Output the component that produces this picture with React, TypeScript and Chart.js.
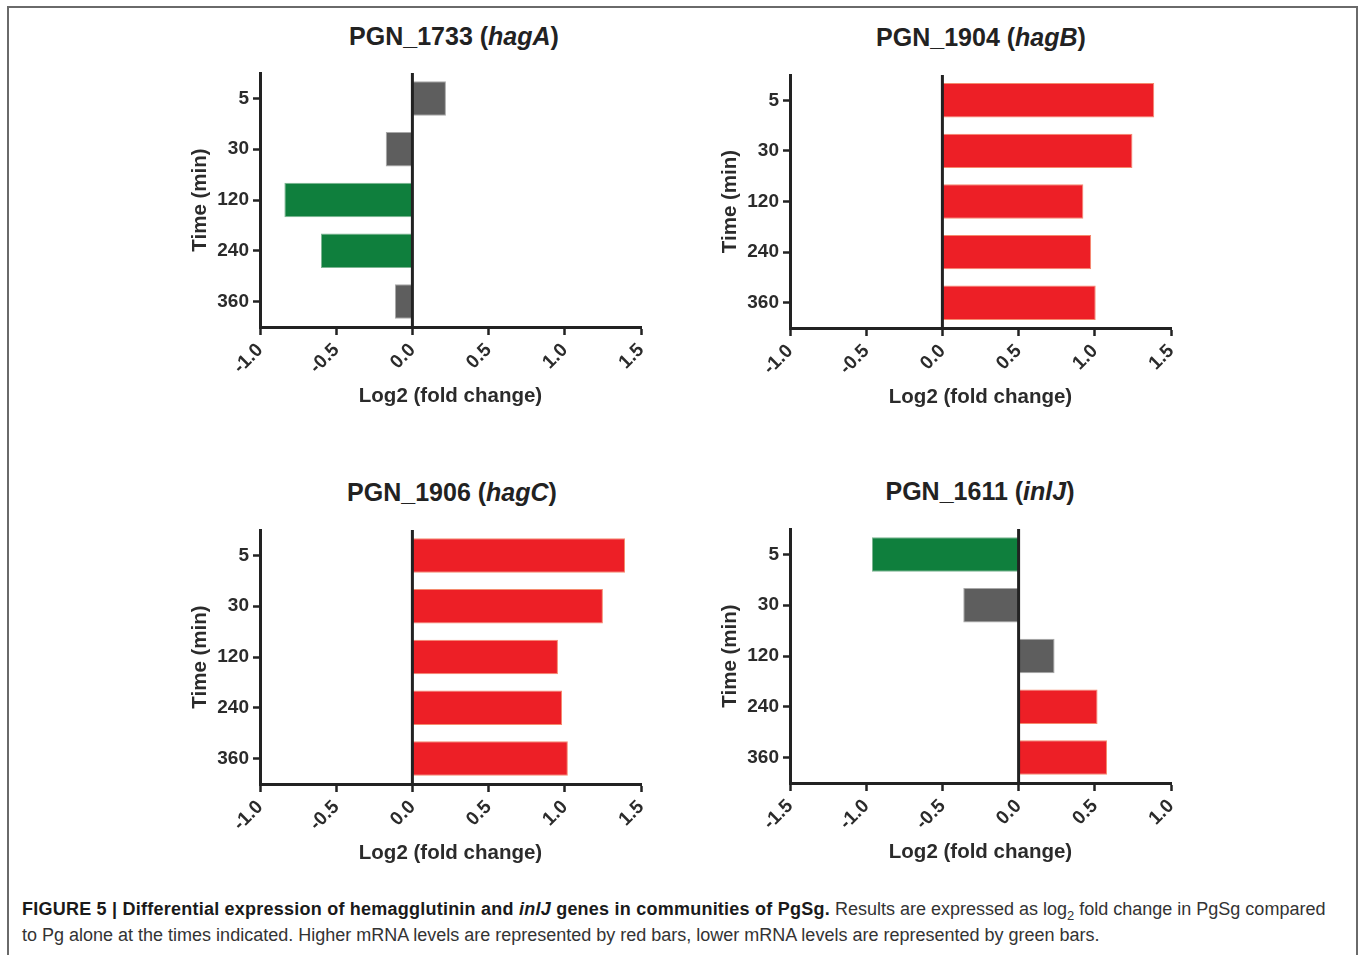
import React, { useEffect, useRef } from "react";
import { Chart, registerables } from "chart.js";

Chart.register(...registerables);

// ---------- data ----------
const timeLabels = ["5", "30", "120", "240", "360"];

const geneIds = ["PGN_1733", "PGN_1904", "PGN_1906", "PGN_1611"];
const geneNames = ["hagA", "hagB", "hagC", "inlJ"];

const hagAValues = [0.22, -0.175, -0.84, -0.6, -0.115];
const hagAStatus = ["ns", "ns", "down", "down", "ns"];

const hagBValues = [1.39, 1.247, 0.925, 0.976, 1.006];
const hagBStatus = ["up", "up", "up", "up", "up"];

const hagCValues = [1.395, 1.25, 0.955, 0.982, 1.02];
const hagCStatus = ["up", "up", "up", "up", "up"];

const inlJValues = [-0.962, -0.363, 0.236, 0.518, 0.58];
const inlJStatus = ["down", "ns", "ns", "up", "up"];

const xTicksHag = [-1.0, -0.5, 0.0, 0.5, 1.0, 1.5];
const xTicksInlJ = [-1.5, -1.0, -0.5, 0.0, 0.5, 1.0];

const xAxisTitle = "Log2 (fold change)";
const yAxisTitle = "Time (min)";

// ---------- styles ----------
const FONT = '"Liberation Sans", Arial, Helvetica, sans-serif';
const AXIS = "#222222";
const TEXT = "#2b2b2b";
const FILL: Record<string, string> = { up: "#ed1f26", down: "#0f7f3d", ns: "#5e5e5e" };
const EDGE: Record<string, string> = { up: "#f58a6e", down: "#7db592", ns: "#a8a8a8" };

const zeroLinePlugin = {
  id: "zeroLine",
  afterDatasetsDraw(chart: any) {
    const { ctx, chartArea, scales } = chart;
    const x = scales.x.getPixelForValue(0);
    ctx.save();
    ctx.strokeStyle = AXIS;
    ctx.lineWidth = 3;
    ctx.beginPath();
    ctx.moveTo(x, chartArea.top);
    ctx.lineTo(x, chartArea.bottom);
    ctx.stroke();
    ctx.restore();
  },
};

type PanelProps = {
  geneId: string;
  geneName: string;
  values: number[];
  status: string[];
  xTicks: number[];
  plotLeft: number;
  plotTop: number;
  plotWidth: number;
  plotHeight: number;
  titleX: number;
  titleY: number;
};

const Y_W = 72;
const X_H = 82;
const PAD_T = 20;
const PAD_R = 30;

function Panel(p: PanelProps) {
  const ref = useRef<HTMLCanvasElement>(null);
  useEffect(() => {
    if (!ref.current) return;
    const chart = new Chart(ref.current, {
      type: "bar",
      data: {
        labels: timeLabels,
        datasets: [
          {
            data: p.values,
            backgroundColor: p.status.map((s) => FILL[s]),
            borderColor: p.status.map((s) => EDGE[s]),
            borderWidth: 1,
            barPercentage: 0.68,
            categoryPercentage: 1,
          },
        ],
      },
      options: {
        indexAxis: "y",
        responsive: true,
        maintainAspectRatio: false,
        animation: false,
        layout: { padding: { left: 0, top: PAD_T, right: PAD_R, bottom: 0 } },
        plugins: {
          legend: { display: false },
          tooltip: { enabled: false },
          title: { display: false },
        },
        scales: {
          x: {
            type: "linear",
            min: p.xTicks[0],
            max: p.xTicks[p.xTicks.length - 1],
            afterBuildTicks: (s: any) => {
              s.ticks = p.xTicks.map((v) => ({ value: v }));
            },
            afterFit: (s: any) => {
              s.height = X_H;
            },
            ticks: {
              autoSkip: false,
              maxRotation: 45,
              minRotation: 45,
              padding: 4,
              color: TEXT,
              font: { family: FONT, size: 19, weight: "bold" },
              callback: (v: any) => Number(v).toFixed(1),
            },
            grid: {
              display: true,
              drawOnChartArea: false,
              drawTicks: true,
              tickLength: 8,
              tickWidth: 2.5,
              tickColor: AXIS,
            },
            border: { display: true, color: AXIS, width: 3 },
            title: {
              display: true,
              text: xAxisTitle,
              color: TEXT,
              font: { family: FONT, size: 20.5, weight: "bold" },
              padding: 0,
            },
          },
          y: {
            type: "category",
            offset: true,
            afterFit: (s: any) => {
              s.width = Y_W;
            },
            ticks: {
              padding: 4,
              color: TEXT,
              font: { family: FONT, size: 19, weight: "bold" },
            },
            grid: {
              display: true,
              offset: false,
              drawOnChartArea: false,
              drawTicks: true,
              tickLength: 7,
              tickWidth: 2.5,
              tickColor: AXIS,
            },
            border: { display: true, color: AXIS, width: 3 },
            title: {
              display: true,
              text: yAxisTitle,
              color: TEXT,
              font: { family: FONT, size: 20.5, weight: "bold" },
              padding: 0,
            },
          },
        },
      } as any,
      plugins: [zeroLinePlugin],
    });
    return () => chart.destroy();
  }, []);

  const w = Y_W + p.plotWidth + PAD_R;
  const h = PAD_T + p.plotHeight + X_H;
  return (
    <>
      <div
        style={{
          position: "absolute",
          left: p.titleX,
          top: p.titleY - 12,
          transform: "translateX(-50%)",
          font: `bold 25px ${FONT}`,
          lineHeight: "25px",
          whiteSpace: "nowrap",
          color: "#222",
        }}
      >
        {p.geneId} (<i>{p.geneName}</i>)
      </div>
      <div
        style={{
          position: "absolute",
          left: p.plotLeft - Y_W,
          top: p.plotTop - PAD_T,
          width: w,
          height: h,
        }}
      >
        <canvas ref={ref} />
      </div>
    </>
  );
}

export default function App() {
  return (
    <div
      style={{
        position: "fixed",
        left: 0,
        top: 0,
        width: 1360,
        height: 955,
        background: "#fff",
        overflow: "hidden",
      }}
    >
      <div
        style={{
          position: "absolute",
          left: 7,
          top: 6,
          width: 1347,
          height: 960,
          border: "2px solid #6a6a6a",
          borderBottom: "none",
        }}
      />
      <Panel
        geneId={geneIds[0]}
        geneName={geneNames[0]}
        values={hagAValues}
        status={hagAStatus}
        xTicks={xTicksHag}
        plotLeft={260}
        plotTop={73}
        plotWidth={381}
        plotHeight={254}
        titleX={454}
        titleY={36}
      />
      <Panel
        geneId={geneIds[1]}
        geneName={geneNames[1]}
        values={hagBValues}
        status={hagBStatus}
        xTicks={xTicksHag}
        plotLeft={790}
        plotTop={75}
        plotWidth={381}
        plotHeight={253}
        titleX={981}
        titleY={37}
      />
      <Panel
        geneId={geneIds[2]}
        geneName={geneNames[2]}
        values={hagCValues}
        status={hagCStatus}
        xTicks={xTicksHag}
        plotLeft={260}
        plotTop={530}
        plotWidth={381}
        plotHeight={254}
        titleX={452}
        titleY={492}
      />
      <Panel
        geneId={geneIds[3]}
        geneName={geneNames[3]}
        values={inlJValues}
        status={inlJStatus}
        xTicks={xTicksInlJ}
        plotLeft={790}
        plotTop={529}
        plotWidth={381}
        plotHeight={254}
        titleX={980}
        titleY={491}
      />
      <div
        style={{
          position: "absolute",
          left: 22,
          top: 900,
          font: `18px ${FONT}`,
          lineHeight: "18px",
          color: "#333",
          whiteSpace: "nowrap",
        }}
      >
        <b style={{ color: "#1a1a1a", letterSpacing: "0.23px" }}>
          FIGURE 5 | Differential expression of hemagglutinin and <i>inlJ</i> genes in communities of PgSg.
        </b>{" "}
        Results are expressed as log
        <span style={{ fontSize: "13px", position: "relative", top: "5px" }}>2</span> fold change in PgSg
        compared
      </div>
      <div
        style={{
          position: "absolute",
          left: 22,
          top: 926,
          font: `18px ${FONT}`,
          lineHeight: "18px",
          color: "#333",
          whiteSpace: "nowrap",
        }}
      >
        to Pg alone at the times indicated. Higher mRNA levels are represented by red bars, lower mRNA levels are
        represented by green bars.
      </div>
    </div>
  );
}
